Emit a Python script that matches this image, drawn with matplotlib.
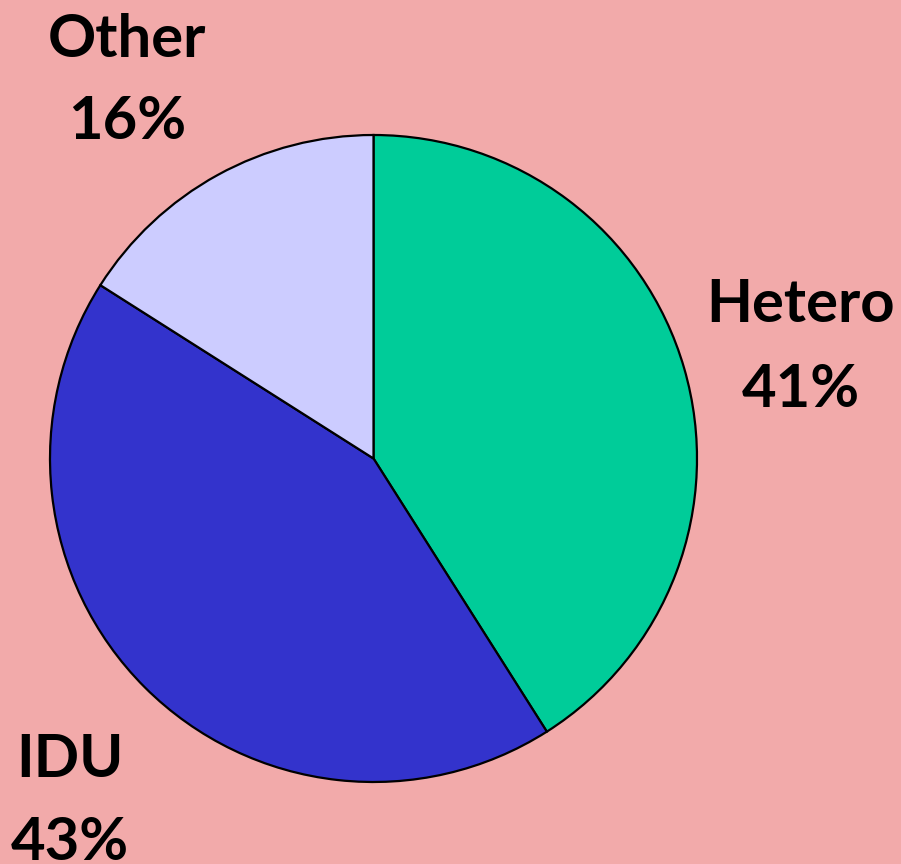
import matplotlib.pyplot as plt

categories = ['Hetero', 'IDU', 'Other']
shares = [41, 43, 16]
colors = ['#00CC99', '#3333CC', '#CCCCFF']
bg = '#F2AAAA'

W, H = 901, 864
fig = plt.figure(figsize=(W / 100, H / 100), dpi=100, facecolor=bg)

# pie centre and radius in pixels
cx, cy, r = 373.5, 458.5, 323.5
ax = fig.add_axes([(cx - r) / W, (H - cy - r) / H, 2 * r / W, 2 * r / H])
ax.pie(shares, colors=colors, startangle=90, counterclock=False,
       wedgeprops=dict(edgecolor='black', linewidth=1.6))
ax.set_xlim(-1, 1)
ax.set_ylim(-1, 1)
ax.set_aspect('equal')
ax.axis('off')

# label positions (pixel centres of the two text lines)
label_pos = {'Hetero': (801, 305, 390), 'IDU': (70, 760, 843), 'Other': (127, 40, 122)}
for cat, val in zip(categories, shares):
    x, y1, y2 = label_pos[cat]
    fig.text(x / W, 1 - y1 / H, cat, ha='center', va='center',
             fontsize=43, family='Lato', weight='bold')
    fig.text(x / W, 1 - y2 / H, f'{val}%', ha='center', va='center',
             fontsize=43, family='Lato', weight='bold')

fig.savefig('out.png', dpi=100, facecolor=bg)
